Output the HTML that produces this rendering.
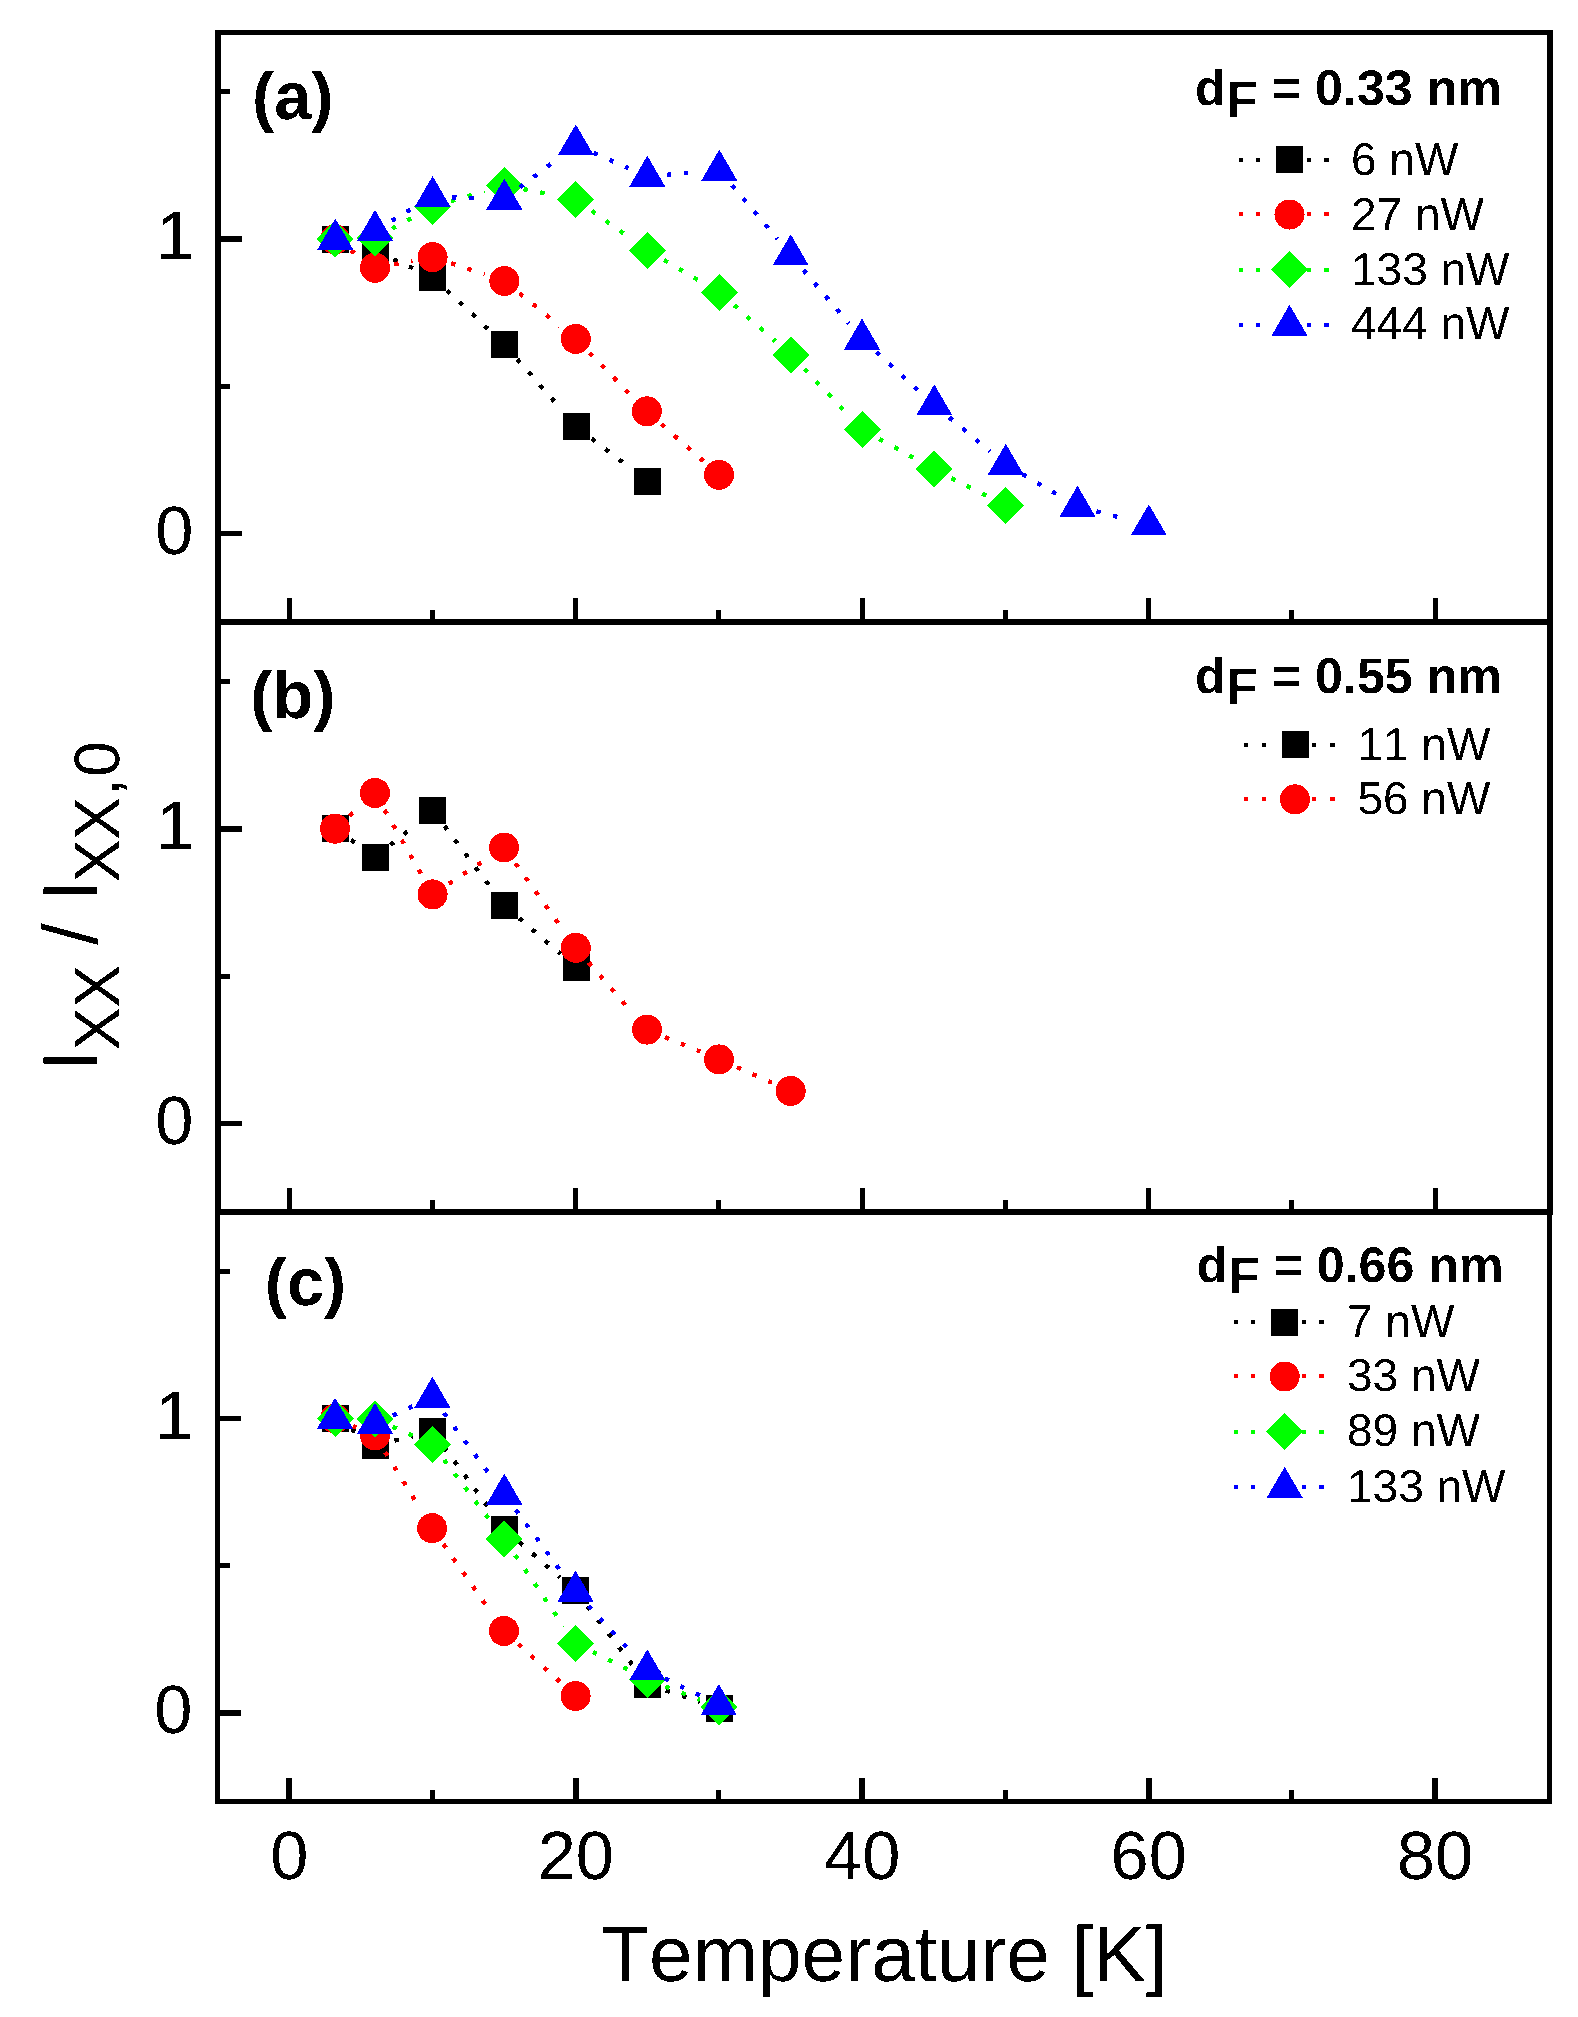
<!DOCTYPE html>
<html lang="en">
<head>
<meta charset="utf-8">
<title>Intensity ratio versus temperature</title>
<style>
html,body{margin:0;padding:0;background:#ffffff;}
body{width:1578px;height:2017px;overflow:hidden;}
svg{display:block;}
svg text{font-family:"Liberation Sans", Arial, Helvetica, sans-serif;fill:#000000;font-kerning:none;text-rendering:geometricPrecision;}
</style>
</head>
<body>
<svg width="1578" height="2017" viewBox="0 0 1578 2017">
<defs><filter id="crisp" filterUnits="userSpaceOnUse" x="0" y="0" width="1578" height="2017" color-interpolation-filters="sRGB"><feComponentTransfer><feFuncA type="discrete" tableValues="0 1"/></feComponentTransfer></filter></defs>
<rect x="0" y="0" width="1578" height="2017" fill="#ffffff"/>
<g shape-rendering="crispEdges">
<rect x="215" y="30" width="6" height="1182" fill="#000000"/>
<rect x="215" y="1212" width="5" height="592" fill="#000000"/>
<rect x="1547" y="30" width="6" height="1182" fill="#000000"/>
<rect x="1547" y="1212" width="5" height="592" fill="#000000"/>
<rect x="215" y="30" width="1338" height="5" fill="#000000"/>
<rect x="215" y="619" width="1338" height="6" fill="#000000"/>
<rect x="215" y="1209" width="1338" height="6" fill="#000000"/>
<rect x="215" y="1799" width="1337" height="5" fill="#000000"/>
<rect x="287" y="598" width="5" height="21" fill="#000000"/>
<rect x="573" y="598" width="5" height="21" fill="#000000"/>
<rect x="860" y="598" width="5" height="21" fill="#000000"/>
<rect x="1146" y="598" width="5" height="21" fill="#000000"/>
<rect x="1433" y="598" width="5" height="21" fill="#000000"/>
<rect x="430" y="610" width="5" height="9" fill="#000000"/>
<rect x="716" y="610" width="5" height="9" fill="#000000"/>
<rect x="1003" y="610" width="5" height="9" fill="#000000"/>
<rect x="1289" y="610" width="5" height="9" fill="#000000"/>
<rect x="221" y="531" width="21" height="5" fill="#000000"/>
<rect x="221" y="236" width="21" height="6" fill="#000000"/>
<rect x="221" y="384" width="9" height="5" fill="#000000"/>
<rect x="221" y="89" width="9" height="5" fill="#000000"/>
<rect x="287" y="1188" width="5" height="21" fill="#000000"/>
<rect x="573" y="1188" width="5" height="21" fill="#000000"/>
<rect x="860" y="1188" width="5" height="21" fill="#000000"/>
<rect x="1146" y="1188" width="5" height="21" fill="#000000"/>
<rect x="1433" y="1188" width="5" height="21" fill="#000000"/>
<rect x="430" y="1200" width="5" height="9" fill="#000000"/>
<rect x="716" y="1200" width="5" height="9" fill="#000000"/>
<rect x="1003" y="1200" width="5" height="9" fill="#000000"/>
<rect x="1289" y="1200" width="5" height="9" fill="#000000"/>
<rect x="221" y="1121" width="21" height="5" fill="#000000"/>
<rect x="221" y="826" width="21" height="6" fill="#000000"/>
<rect x="221" y="974" width="9" height="5" fill="#000000"/>
<rect x="221" y="679" width="9" height="5" fill="#000000"/>
<rect x="286" y="1778" width="6" height="21" fill="#000000"/>
<rect x="573" y="1778" width="6" height="21" fill="#000000"/>
<rect x="859" y="1778" width="6" height="21" fill="#000000"/>
<rect x="1146" y="1778" width="6" height="21" fill="#000000"/>
<rect x="1432" y="1778" width="6" height="21" fill="#000000"/>
<rect x="430" y="1790" width="5" height="9" fill="#000000"/>
<rect x="716" y="1790" width="5" height="9" fill="#000000"/>
<rect x="1003" y="1790" width="5" height="9" fill="#000000"/>
<rect x="1289" y="1790" width="5" height="9" fill="#000000"/>
<rect x="220" y="1710" width="21" height="6" fill="#000000"/>
<rect x="220" y="1416" width="21" height="5" fill="#000000"/>
<rect x="220" y="1563" width="10" height="5" fill="#000000"/>
<rect x="220" y="1269" width="10" height="5" fill="#000000"/>
</g>
<g shape-rendering="crispEdges">
<line x1="393.3" y1="259.4" x2="414.1" y2="268.7" stroke="#000000" stroke-width="4.4" stroke-dasharray="4.4 12.8"/>
<line x1="447.0" y1="290.4" x2="489.5" y2="330.4" stroke="#000000" stroke-width="4.4" stroke-dasharray="4.4 12.8"/>
<line x1="517.3" y1="359.2" x2="562.8" y2="411.1" stroke="#000000" stroke-width="4.4" stroke-dasharray="4.4 12.8"/>
<line x1="591.7" y1="438.4" x2="631.1" y2="468.7" stroke="#000000" stroke-width="4.4" stroke-dasharray="4.4 12.8"/>
<rect x="321.7" y="225.8" width="27" height="27" fill="#000000"/>
<rect x="362.0" y="238.0" width="27" height="27" fill="#000000"/>
<rect x="419.3" y="263.5" width="27" height="27" fill="#000000"/>
<rect x="490.9" y="331.0" width="27" height="27" fill="#000000"/>
<rect x="562.8" y="413.0" width="27" height="27" fill="#000000"/>
<rect x="633.8" y="467.7" width="27" height="27" fill="#000000"/>
<line x1="350.9" y1="250.6" x2="358.3" y2="255.9" stroke="#ff0000" stroke-width="4.4" stroke-dasharray="4.4 12.8"/>
<line x1="394.2" y1="264.3" x2="412.4" y2="260.9" stroke="#ff0000" stroke-width="4.4" stroke-dasharray="4.4 12.8"/>
<line x1="451.1" y1="263.3" x2="484.8" y2="274.5" stroke="#ff0000" stroke-width="4.4" stroke-dasharray="4.4 12.8"/>
<line x1="519.5" y1="293.3" x2="559.9" y2="326.0" stroke="#ff0000" stroke-width="4.4" stroke-dasharray="4.4 12.8"/>
<line x1="589.5" y1="352.8" x2="632.4" y2="396.7" stroke="#ff0000" stroke-width="4.4" stroke-dasharray="4.4 12.8"/>
<line x1="661.4" y1="424.2" x2="703.6" y2="461.3" stroke="#ff0000" stroke-width="4.4" stroke-dasharray="4.4 12.8"/>
<circle cx="335.0" cy="239.3" r="15" fill="#ff0000"/>
<circle cx="375.0" cy="267.8" r="15" fill="#ff0000"/>
<circle cx="432.6" cy="257.2" r="15" fill="#ff0000"/>
<circle cx="504.3" cy="281.0" r="15" fill="#ff0000"/>
<circle cx="575.8" cy="338.9" r="15" fill="#ff0000"/>
<circle cx="646.8" cy="411.3" r="15" fill="#ff0000"/>
<circle cx="719.0" cy="474.9" r="15" fill="#ff0000"/>
<line x1="392.1" y1="228.7" x2="414.4" y2="216.6" stroke="#00ff00" stroke-width="4.4" stroke-dasharray="4.4 12.8"/>
<line x1="451.1" y1="201.2" x2="484.7" y2="191.2" stroke="#00ff00" stroke-width="4.4" stroke-dasharray="4.4 12.8"/>
<line x1="523.4" y1="189.1" x2="555.7" y2="195.6" stroke="#00ff00" stroke-width="4.4" stroke-dasharray="4.4 12.8"/>
<line x1="591.7" y1="210.9" x2="630.6" y2="238.4" stroke="#00ff00" stroke-width="4.4" stroke-dasharray="4.4 12.8"/>
<line x1="664.1" y1="260.1" x2="701.7" y2="282.1" stroke="#00ff00" stroke-width="4.4" stroke-dasharray="4.4 12.8"/>
<line x1="734.1" y1="305.2" x2="775.4" y2="341.3" stroke="#00ff00" stroke-width="4.4" stroke-dasharray="4.4 12.8"/>
<line x1="804.3" y1="368.9" x2="848.1" y2="414.6" stroke="#00ff00" stroke-width="4.4" stroke-dasharray="4.4 12.8"/>
<line x1="879.3" y1="438.9" x2="916.1" y2="459.3" stroke="#00ff00" stroke-width="4.4" stroke-dasharray="4.4 12.8"/>
<line x1="951.4" y1="478.1" x2="987.0" y2="496.1" stroke="#00ff00" stroke-width="4.4" stroke-dasharray="4.4 12.8"/>
<polygon points="316.5,239.0 335.0,220.5 353.5,239.0 335.0,257.5" fill="#00ff00"/>
<polygon points="356.5,238.0 375.0,219.5 393.5,238.0 375.0,256.5" fill="#00ff00"/>
<polygon points="413.9,206.8 432.4,188.3 450.9,206.8 432.4,225.3" fill="#00ff00"/>
<polygon points="485.8,185.3 504.3,166.8 522.8,185.3 504.3,203.8" fill="#00ff00"/>
<polygon points="557.3,199.6 575.8,181.1 594.3,199.6 575.8,218.1" fill="#00ff00"/>
<polygon points="628.8,250.3 647.3,231.8 665.8,250.3 647.3,268.8" fill="#00ff00"/>
<polygon points="700.9,292.4 719.4,273.9 737.9,292.4 719.4,310.9" fill="#00ff00"/>
<polygon points="772.3,354.8 790.8,336.3 809.3,354.8 790.8,373.3" fill="#00ff00"/>
<polygon points="843.8,429.4 862.3,410.9 880.8,429.4 862.3,447.9" fill="#00ff00"/>
<polygon points="915.5,469.3 934.0,450.8 952.5,469.3 934.0,487.8" fill="#00ff00"/>
<polygon points="986.8,505.3 1005.3,486.8 1023.8,505.3 1005.3,523.8" fill="#00ff00"/>
<line x1="391.8" y1="220.7" x2="414.9" y2="207.1" stroke="#0000ff" stroke-width="4.4" stroke-dasharray="4.4 12.8"/>
<line x1="452.1" y1="197.4" x2="483.8" y2="198.5" stroke="#0000ff" stroke-width="4.4" stroke-dasharray="4.4 12.8"/>
<line x1="519.8" y1="187.4" x2="559.5" y2="157.4" stroke="#0000ff" stroke-width="4.4" stroke-dasharray="4.4 12.8"/>
<line x1="593.7" y1="152.8" x2="628.5" y2="168.2" stroke="#0000ff" stroke-width="4.4" stroke-dasharray="4.4 12.8"/>
<line x1="666.7" y1="174.8" x2="698.9" y2="172.0" stroke="#0000ff" stroke-width="4.4" stroke-dasharray="4.4 12.8"/>
<line x1="731.9" y1="185.2" x2="777.5" y2="239.3" stroke="#0000ff" stroke-width="4.4" stroke-dasharray="4.4 12.8"/>
<line x1="803.3" y1="269.9" x2="848.8" y2="323.6" stroke="#0000ff" stroke-width="4.4" stroke-dasharray="4.4 12.8"/>
<line x1="876.4" y1="352.3" x2="919.1" y2="391.2" stroke="#0000ff" stroke-width="4.4" stroke-dasharray="4.4 12.8"/>
<line x1="949.3" y1="417.5" x2="990.0" y2="451.3" stroke="#0000ff" stroke-width="4.4" stroke-dasharray="4.4 12.8"/>
<line x1="1022.6" y1="474.3" x2="1059.8" y2="496.0" stroke="#0000ff" stroke-width="4.4" stroke-dasharray="4.4 12.8"/>
<line x1="1096.4" y1="511.3" x2="1129.0" y2="519.8" stroke="#0000ff" stroke-width="4.4" stroke-dasharray="4.4 12.8"/>
<polygon points="317.3,249.6 335.3,218.6 353.3,249.6" fill="#0000ff"/>
<polygon points="357.0,240.9 375.0,209.9 393.0,240.9" fill="#0000ff"/>
<polygon points="414.6,207.0 432.6,176.0 450.6,207.0" fill="#0000ff"/>
<polygon points="486.3,209.5 504.3,178.5 522.3,209.5" fill="#0000ff"/>
<polygon points="557.8,155.3 575.8,124.3 593.8,155.3" fill="#0000ff"/>
<polygon points="629.3,186.7 647.3,155.7 665.3,186.7" fill="#0000ff"/>
<polygon points="701.3,180.6 719.3,149.6 737.3,180.6" fill="#0000ff"/>
<polygon points="772.7,265.3 790.7,234.3 808.7,265.3" fill="#0000ff"/>
<polygon points="844.0,349.5 862.0,318.5 880.0,349.5" fill="#0000ff"/>
<polygon points="916.3,415.3 934.3,384.3 952.3,415.3" fill="#0000ff"/>
<polygon points="987.8,474.7 1005.8,443.7 1023.8,474.7" fill="#0000ff"/>
<polygon points="1059.5,516.7 1077.5,485.7 1095.5,516.7" fill="#0000ff"/>
<polygon points="1130.8,535.3 1148.8,504.3 1166.8,535.3" fill="#0000ff"/>
<line x1="351.1" y1="840.0" x2="358.8" y2="845.5" stroke="#000000" stroke-width="4.4" stroke-dasharray="4.4 12.8"/>
<line x1="390.6" y1="845.0" x2="416.9" y2="823.5" stroke="#000000" stroke-width="4.4" stroke-dasharray="4.4 12.8"/>
<line x1="444.5" y1="826.1" x2="492.0" y2="889.1" stroke="#000000" stroke-width="4.4" stroke-dasharray="4.4 12.8"/>
<line x1="519.1" y1="918.2" x2="560.8" y2="954.0" stroke="#000000" stroke-width="4.4" stroke-dasharray="4.4 12.8"/>
<rect x="321.7" y="815.2" width="27" height="27" fill="#000000"/>
<rect x="362.0" y="843.9" width="27" height="27" fill="#000000"/>
<rect x="419.3" y="797.0" width="27" height="27" fill="#000000"/>
<rect x="490.8" y="892.0" width="27" height="27" fill="#000000"/>
<rect x="562.8" y="953.9" width="27" height="27" fill="#000000"/>
<line x1="349.5" y1="815.7" x2="359.7" y2="806.7" stroke="#ff0000" stroke-width="4.4" stroke-dasharray="4.4 12.8"/>
<line x1="384.6" y1="810.0" x2="422.5" y2="876.6" stroke="#ff0000" stroke-width="4.4" stroke-dasharray="4.4 12.8"/>
<line x1="448.9" y1="883.7" x2="486.9" y2="858.8" stroke="#ff0000" stroke-width="4.4" stroke-dasharray="4.4 12.8"/>
<line x1="515.4" y1="863.4" x2="563.9" y2="931.1" stroke="#ff0000" stroke-width="4.4" stroke-dasharray="4.4 12.8"/>
<line x1="588.6" y1="962.5" x2="633.5" y2="1014.1" stroke="#ff0000" stroke-width="4.4" stroke-dasharray="4.4 12.8"/>
<line x1="665.0" y1="1037.1" x2="700.1" y2="1051.6" stroke="#ff0000" stroke-width="4.4" stroke-dasharray="4.4 12.8"/>
<line x1="736.9" y1="1067.2" x2="771.9" y2="1082.7" stroke="#ff0000" stroke-width="4.4" stroke-dasharray="4.4 12.8"/>
<circle cx="335.0" cy="828.7" r="15" fill="#ff0000"/>
<circle cx="375.0" cy="793.0" r="15" fill="#ff0000"/>
<circle cx="432.6" cy="894.4" r="15" fill="#ff0000"/>
<circle cx="504.0" cy="847.5" r="15" fill="#ff0000"/>
<circle cx="575.8" cy="947.8" r="15" fill="#ff0000"/>
<circle cx="647.0" cy="1029.6" r="15" fill="#ff0000"/>
<circle cx="719.0" cy="1059.4" r="15" fill="#ff0000"/>
<circle cx="790.7" cy="1090.9" r="15" fill="#ff0000"/>
<line x1="351.5" y1="1429.2" x2="358.4" y2="1433.8" stroke="#000000" stroke-width="4.4" stroke-dasharray="4.4 12.8"/>
<line x1="394.5" y1="1440.6" x2="412.6" y2="1436.3" stroke="#000000" stroke-width="4.4" stroke-dasharray="4.4 12.8"/>
<line x1="444.1" y1="1447.3" x2="492.5" y2="1513.1" stroke="#000000" stroke-width="4.4" stroke-dasharray="4.4 12.8"/>
<line x1="519.4" y1="1542.3" x2="560.1" y2="1577.5" stroke="#000000" stroke-width="4.4" stroke-dasharray="4.4 12.8"/>
<line x1="587.5" y1="1606.4" x2="634.8" y2="1667.9" stroke="#000000" stroke-width="4.4" stroke-dasharray="4.4 12.8"/>
<line x1="665.8" y1="1690.4" x2="699.9" y2="1701.9" stroke="#000000" stroke-width="4.4" stroke-dasharray="4.4 12.8"/>
<rect x="321.7" y="1405.0" width="27" height="27" fill="#000000"/>
<rect x="362.0" y="1431.6" width="27" height="27" fill="#000000"/>
<rect x="419.1" y="1418.1" width="27" height="27" fill="#000000"/>
<rect x="491.1" y="1516.1" width="27" height="27" fill="#000000"/>
<rect x="562.1" y="1577.4" width="27" height="27" fill="#000000"/>
<rect x="633.8" y="1670.7" width="27" height="27" fill="#000000"/>
<rect x="705.8" y="1695.0" width="27" height="27" fill="#000000"/>
<line x1="352.9" y1="1426.1" x2="356.1" y2="1427.5" stroke="#ff0000" stroke-width="4.4" stroke-dasharray="4.4 12.8"/>
<line x1="385.2" y1="1452.1" x2="421.3" y2="1510.7" stroke="#ff0000" stroke-width="4.4" stroke-dasharray="4.4 12.8"/>
<line x1="443.3" y1="1544.1" x2="492.3" y2="1614.2" stroke="#ff0000" stroke-width="4.4" stroke-dasharray="4.4 12.8"/>
<line x1="518.4" y1="1644.1" x2="560.4" y2="1682.2" stroke="#ff0000" stroke-width="4.4" stroke-dasharray="4.4 12.8"/>
<circle cx="335.0" cy="1418.5" r="15" fill="#ff0000"/>
<circle cx="375.0" cy="1435.5" r="15" fill="#ff0000"/>
<circle cx="432.1" cy="1528.1" r="15" fill="#ff0000"/>
<circle cx="504.0" cy="1631.0" r="15" fill="#ff0000"/>
<circle cx="575.6" cy="1696.0" r="15" fill="#ff0000"/>
<line x1="392.8" y1="1426.8" x2="413.6" y2="1436.0" stroke="#00ff00" stroke-width="4.4" stroke-dasharray="4.4 12.8"/>
<line x1="444.1" y1="1459.9" x2="491.8" y2="1522.7" stroke="#00ff00" stroke-width="4.4" stroke-dasharray="4.4 12.8"/>
<line x1="515.2" y1="1555.1" x2="563.8" y2="1626.4" stroke="#00ff00" stroke-width="4.4" stroke-dasharray="4.4 12.8"/>
<line x1="592.8" y1="1652.0" x2="629.0" y2="1670.2" stroke="#00ff00" stroke-width="4.4" stroke-dasharray="4.4 12.8"/>
<line x1="665.5" y1="1686.5" x2="699.9" y2="1699.9" stroke="#00ff00" stroke-width="4.4" stroke-dasharray="4.4 12.8"/>
<polygon points="316.5,1418.5 335.0,1400.0 353.5,1418.5 335.0,1437.0" fill="#00ff00"/>
<polygon points="356.5,1418.8 375.0,1400.3 393.5,1418.8 375.0,1437.3" fill="#00ff00"/>
<polygon points="413.8,1444.4 432.3,1425.9 450.8,1444.4 432.3,1462.9" fill="#00ff00"/>
<polygon points="485.7,1539.0 504.2,1520.5 522.7,1539.0 504.2,1557.5" fill="#00ff00"/>
<polygon points="556.9,1643.3 575.4,1624.8 593.9,1643.3 575.4,1661.8" fill="#00ff00"/>
<polygon points="628.8,1679.4 647.3,1660.9 665.8,1679.4 647.3,1697.9" fill="#00ff00"/>
<polygon points="700.5,1707.3 719.0,1688.8 737.5,1707.3 719.0,1725.8" fill="#00ff00"/>
<line x1="392.8" y1="1415.4" x2="413.7" y2="1405.9" stroke="#0000ff" stroke-width="4.4" stroke-dasharray="4.4 12.8"/>
<line x1="444.0" y1="1413.1" x2="492.1" y2="1477.7" stroke="#0000ff" stroke-width="4.4" stroke-dasharray="4.4 12.8"/>
<line x1="515.8" y1="1509.9" x2="563.4" y2="1574.8" stroke="#0000ff" stroke-width="4.4" stroke-dasharray="4.4 12.8"/>
<line x1="588.6" y1="1605.7" x2="633.5" y2="1654.9" stroke="#0000ff" stroke-width="4.4" stroke-dasharray="4.4 12.8"/>
<line x1="664.8" y1="1678.5" x2="700.4" y2="1695.7" stroke="#0000ff" stroke-width="4.4" stroke-dasharray="4.4 12.8"/>
<polygon points="317.0,1428.8 335.0,1397.8 353.0,1428.8" fill="#0000ff"/>
<polygon points="357.0,1433.8 375.0,1402.8 393.0,1433.8" fill="#0000ff"/>
<polygon points="414.4,1407.7 432.4,1376.7 450.4,1407.7" fill="#0000ff"/>
<polygon points="486.3,1504.5 504.3,1473.5 522.3,1504.5" fill="#0000ff"/>
<polygon points="557.5,1601.6 575.5,1570.6 593.5,1601.6" fill="#0000ff"/>
<polygon points="629.3,1680.3 647.3,1649.3 665.3,1680.3" fill="#0000ff"/>
<polygon points="700.8,1715.0 718.8,1684.0 736.8,1715.0" fill="#0000ff"/>
</g>
<g filter="url(#crisp)">
<text x="1195.1" y="105.3" font-size="50.2" font-weight="bold">d<tspan dy="11.3" dx="0.8" font-size="51.2">F</tspan><tspan dy="-11.3" font-size="50.2"> = 0.33 nm</tspan></text>
<g shape-rendering="crispEdges">
<rect x="1239" y="158" width="4" height="4" fill="#000000"/>
<rect x="1256" y="158" width="4" height="4" fill="#000000"/>
<rect x="1307" y="158" width="4" height="4" fill="#000000"/>
<rect x="1324" y="158" width="5" height="4" fill="#000000"/>
<rect x="1276.0" y="146.2" width="27" height="27" fill="#000000"/>
<rect x="1239" y="212" width="4" height="4" fill="#ff0000"/>
<rect x="1256" y="212" width="4" height="4" fill="#ff0000"/>
<rect x="1307" y="212" width="4" height="4" fill="#ff0000"/>
<rect x="1324" y="212" width="5" height="4" fill="#ff0000"/>
<circle cx="1289.5" cy="214.5" r="15" fill="#ff0000"/>
<rect x="1239" y="268" width="4" height="4" fill="#00ff00"/>
<rect x="1256" y="268" width="4" height="4" fill="#00ff00"/>
<rect x="1307" y="268" width="4" height="4" fill="#00ff00"/>
<rect x="1324" y="268" width="5" height="4" fill="#00ff00"/>
<polygon points="1271.0,269.5 1289.5,251.0 1308.0,269.5 1289.5,288.0" fill="#00ff00"/>
<rect x="1239" y="323" width="4" height="4" fill="#0000ff"/>
<rect x="1256" y="323" width="4" height="4" fill="#0000ff"/>
<rect x="1307" y="323" width="4" height="4" fill="#0000ff"/>
<rect x="1324" y="323" width="5" height="4" fill="#0000ff"/>
<polygon points="1271.5,335.8 1289.5,304.8 1307.5,335.8" fill="#0000ff"/>
</g>
<text x="1351" y="174.7" font-size="46">6 nW</text>
<text x="1351" y="229.5" font-size="46">27 nW</text>
<text x="1351" y="284.5" font-size="46">133 nW</text>
<text x="1351" y="339.2" font-size="46">444 nW</text>
<text x="1195.1" y="692.9" font-size="50.2" font-weight="bold">d<tspan dy="11.3" dx="0.8" font-size="51.2">F</tspan><tspan dy="-11.3" font-size="50.2"> = 0.55 nm</tspan></text>
<g shape-rendering="crispEdges">
<rect x="1244" y="743" width="4" height="4" fill="#000000"/>
<rect x="1262" y="743" width="4" height="4" fill="#000000"/>
<rect x="1312" y="743" width="4" height="4" fill="#000000"/>
<rect x="1330" y="743" width="5" height="4" fill="#000000"/>
<rect x="1281.5" y="731.1" width="27" height="27" fill="#000000"/>
<rect x="1244" y="797" width="4" height="4" fill="#ff0000"/>
<rect x="1262" y="797" width="4" height="4" fill="#ff0000"/>
<rect x="1312" y="797" width="4" height="4" fill="#ff0000"/>
<rect x="1330" y="797" width="5" height="4" fill="#ff0000"/>
<circle cx="1295.0" cy="799.3" r="15" fill="#ff0000"/>
</g>
<text x="1357.4" y="759.6" font-size="46">11 nW</text>
<text x="1357.4" y="814.3" font-size="46">56 nW</text>
<text x="1196.8" y="1282.0" font-size="50.2" font-weight="bold">d<tspan dy="11.3" dx="0.8" font-size="51.2">F</tspan><tspan dy="-11.3" font-size="50.2"> = 0.66 nm</tspan></text>
<g shape-rendering="crispEdges">
<rect x="1234" y="1320" width="4" height="4" fill="#000000"/>
<rect x="1251" y="1320" width="4" height="4" fill="#000000"/>
<rect x="1302" y="1320" width="4" height="4" fill="#000000"/>
<rect x="1319" y="1320" width="5" height="4" fill="#000000"/>
<rect x="1271.2" y="1308.5" width="27" height="27" fill="#000000"/>
<rect x="1234" y="1374" width="4" height="4" fill="#ff0000"/>
<rect x="1251" y="1374" width="4" height="4" fill="#ff0000"/>
<rect x="1302" y="1374" width="4" height="4" fill="#ff0000"/>
<rect x="1319" y="1374" width="5" height="4" fill="#ff0000"/>
<circle cx="1284.7" cy="1376.5" r="15" fill="#ff0000"/>
<rect x="1234" y="1430" width="4" height="4" fill="#00ff00"/>
<rect x="1251" y="1430" width="4" height="4" fill="#00ff00"/>
<rect x="1302" y="1430" width="4" height="4" fill="#00ff00"/>
<rect x="1319" y="1430" width="5" height="4" fill="#00ff00"/>
<polygon points="1266.2,1431.7 1284.7,1413.2 1303.2,1431.7 1284.7,1450.2" fill="#00ff00"/>
<rect x="1234" y="1485" width="4" height="4" fill="#0000ff"/>
<rect x="1251" y="1485" width="4" height="4" fill="#0000ff"/>
<rect x="1302" y="1485" width="4" height="4" fill="#0000ff"/>
<rect x="1319" y="1485" width="5" height="4" fill="#0000ff"/>
<polygon points="1266.7,1497.8 1284.7,1466.8 1302.7,1497.8" fill="#0000ff"/>
</g>
<text x="1347" y="1336.6" font-size="46">7 nW</text>
<text x="1347" y="1391.2" font-size="46">33 nW</text>
<text x="1347" y="1446.3" font-size="46">89 nW</text>
<text x="1347" y="1501.5" font-size="46">133 nW</text>
<text x="252.0" y="119.2" font-size="66.7" font-weight="bold">(a)</text>
<text x="250.3" y="718.0" font-size="66.7" font-weight="bold">(b)</text>
<text x="264.8" y="1305.2" font-size="66.7" font-weight="bold">(c)</text>
<text x="289.3" y="1879.2" font-size="68.5" text-anchor="middle">0</text>
<text x="575.8" y="1879.2" font-size="68.5" text-anchor="middle">20</text>
<text x="862.2" y="1879.2" font-size="68.5" text-anchor="middle">40</text>
<text x="1148.7" y="1879.2" font-size="68.5" text-anchor="middle">60</text>
<text x="1435.1" y="1879.2" font-size="68.5" text-anchor="middle">80</text>
<text x="193.3" y="553.8" font-size="68.5" text-anchor="end">0</text>
<text x="194.3" y="259.2" font-size="68.5" text-anchor="end">1</text>
<text x="193.3" y="1143.8" font-size="68.5" text-anchor="end">0</text>
<text x="194.3" y="849.2" font-size="68.5" text-anchor="end">1</text>
<text x="192.3" y="1733.3" font-size="68.5" text-anchor="end">0</text>
<text x="193.3" y="1438.7" font-size="68.5" text-anchor="end">1</text>
<text x="884.4" y="1980.5" font-size="78.4" text-anchor="middle">Temperature [K]</text>
<text transform="translate(97,1071.1) rotate(-90)" font-size="77.8">I<tspan dy="21.5" dx="-0.9" font-size="64">XX</tspan><tspan dy="-21.5" dx="-1.5" font-size="77.8"> / I</tspan><tspan dy="21.5" dx="-2.4" font-size="64">XX<tspan dx="1.3">,</tspan><tspan dx="1.2">0</tspan></tspan></text>
</g>
</svg>
</body>
</html>
